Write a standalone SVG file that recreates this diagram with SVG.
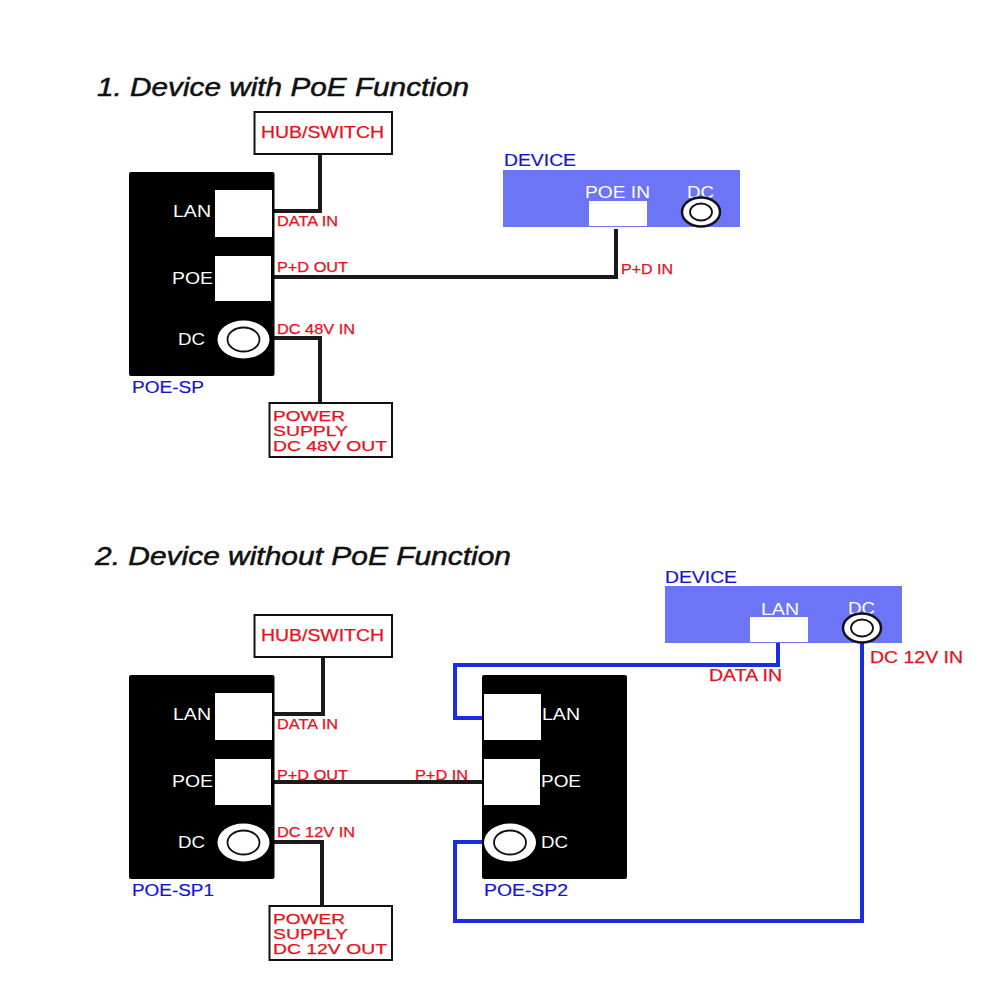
<svg xmlns="http://www.w3.org/2000/svg" width="1000" height="1000" viewBox="0 0 1000 1000">
<style>
text{font-family:"Liberation Sans",Arial,sans-serif}
.title{font-size:25px;font-style:italic;fill:#111;stroke:#111;stroke-width:.5px}
.r{font-size:14px;fill:#e8101c;stroke:#e8101c;stroke-width:.25px}
.rb{font-size:16.500px;fill:#e8101c;stroke:#e8101c;stroke-width:.25px}
.rp{font-size:15.500px;fill:#e8101c;stroke:#e8101c;stroke-width:.25px}
.rs{font-size:16px;fill:#e8101c;stroke:#e8101c;stroke-width:.25px}
.b{font-size:16.500px;fill:#1414d2;stroke:#1414d2;stroke-width:.2px}
.w{font-size:16.500px;fill:#fff}
.box{fill:#fff;stroke:#111;stroke-width:2}
.sp{fill:#000}
.hole{fill:#fff}
.dev{fill:#6b75f5}
.ring{fill:#fff}
.ringd{fill:#fff;stroke:#111;stroke-width:2.400}
.inner{fill:none;stroke:#111;stroke-width:1.800}
.k{fill:none;stroke:#1a1a1a;stroke-width:4}
.u{fill:none;stroke:#1a2ee0;stroke-width:4}
</style>
<text class="title" x="97" y="96" textLength="372" lengthAdjust="spacingAndGlyphs">1. Device with PoE Function</text>
<text class="title" x="95" y="565" textLength="416" lengthAdjust="spacingAndGlyphs">2. Device without PoE Function</text>
<g id="connectors">
<path class="k" d="M320 154V211H274"/>
<path class="k" d="M616 229V277H274"/>
<path class="k" d="M274 338H320V403"/>
<path class="k" d="M323 657V714H272"/>
<path class="k" d="M274 782H484"/>
<path class="k" d="M274 842H322V906"/>
<path class="u" d="M778 643V665H455V718H484"/>
<path class="u" d="M486 842H455V921H862V642"/>
</g>
<g id="hub1"><rect class="box" x="254.500" y="112" width="137.500" height="42"/><text class="rb" x="261" y="138" textLength="123" lengthAdjust="spacingAndGlyphs">HUB/SWITCH</text></g>
<g id="poe-sp"><rect class="sp" x="129" y="172" width="145.500" height="204" rx="2"/>
<rect class="hole" x="215" y="190" width="57" height="47"/><rect class="hole" x="215" y="256" width="56" height="45"/>
<ellipse class="ring" cx="243.500" cy="339.500" rx="26" ry="19"/><ellipse class="inner" cx="243.500" cy="339.500" rx="16" ry="12"/>
<text class="w" x="173" y="217" textLength="38" lengthAdjust="spacingAndGlyphs">LAN</text><text class="w" x="172" y="284" textLength="41" lengthAdjust="spacingAndGlyphs">POE</text><text class="w" x="178" y="345" textLength="27" lengthAdjust="spacingAndGlyphs">DC</text>
<text class="b" x="132" y="393" textLength="72" lengthAdjust="spacingAndGlyphs">POE-SP</text>
<text class="r" x="277" y="226" textLength="61" lengthAdjust="spacingAndGlyphs">DATA IN</text><text class="r" x="277" y="272" textLength="71" lengthAdjust="spacingAndGlyphs">P+D OUT</text><text class="r" x="277" y="334" textLength="78" lengthAdjust="spacingAndGlyphs">DC 48V IN</text></g>
<g id="power1"><rect class="box" x="269.500" y="403" width="122.500" height="54"/><text class="rp" x="273" y="420.500" textLength="72" lengthAdjust="spacingAndGlyphs">POWER</text><text class="rp" x="273" y="435.500" textLength="75" lengthAdjust="spacingAndGlyphs">SUPPLY</text><text class="rp" x="273" y="451" textLength="114" lengthAdjust="spacingAndGlyphs">DC 48V OUT</text></g>
<g id="device1"><text class="b" x="504" y="166" textLength="72" lengthAdjust="spacingAndGlyphs">DEVICE</text><rect class="dev" x="503" y="170" width="237" height="57"/><rect class="hole" x="589" y="201" width="58" height="25"/>
<text class="w" x="585" y="198" textLength="65" lengthAdjust="spacingAndGlyphs">POE IN</text><text class="w" x="687" y="198" textLength="27" lengthAdjust="spacingAndGlyphs">DC</text>
<ellipse class="ringd" cx="701" cy="212" rx="19" ry="14.500"/><ellipse class="inner" cx="701" cy="212" rx="11" ry="8.500"/>
<text class="r" x="621" y="274" textLength="52" lengthAdjust="spacingAndGlyphs">P+D IN</text></g>
<g id="hub2"><rect class="box" x="254.500" y="615" width="137.500" height="42"/><text class="rb" x="261" y="641" textLength="123" lengthAdjust="spacingAndGlyphs">HUB/SWITCH</text></g>
<g id="poe-sp1"><rect class="sp" x="129" y="675" width="145.500" height="204" rx="2"/>
<rect class="hole" x="215" y="693" width="57" height="47"/><rect class="hole" x="215" y="759" width="56" height="46"/>
<ellipse class="ring" cx="243.500" cy="842.500" rx="26" ry="19"/><ellipse class="inner" cx="243.500" cy="842.500" rx="16" ry="12"/>
<text class="w" x="173" y="720" textLength="38" lengthAdjust="spacingAndGlyphs">LAN</text><text class="w" x="172" y="787" textLength="41" lengthAdjust="spacingAndGlyphs">POE</text><text class="w" x="178" y="848" textLength="27" lengthAdjust="spacingAndGlyphs">DC</text>
<text class="b" x="132" y="896" textLength="82" lengthAdjust="spacingAndGlyphs">POE-SP1</text>
<text class="r" x="277" y="729" textLength="61" lengthAdjust="spacingAndGlyphs">DATA IN</text><text class="r" x="277" y="780" textLength="71" lengthAdjust="spacingAndGlyphs">P+D OUT</text><text class="r" x="277" y="837" textLength="78" lengthAdjust="spacingAndGlyphs">DC 12V IN</text></g>
<g id="power2"><rect class="box" x="269.500" y="906" width="122.500" height="54"/><text class="rp" x="273" y="923.500" textLength="72" lengthAdjust="spacingAndGlyphs">POWER</text><text class="rp" x="273" y="938.500" textLength="75" lengthAdjust="spacingAndGlyphs">SUPPLY</text><text class="rp" x="273" y="954" textLength="114" lengthAdjust="spacingAndGlyphs">DC 12V OUT</text></g>
<g id="poe-sp2"><rect class="sp" x="482" y="675" width="145" height="204" rx="2"/>
<rect class="hole" x="484" y="694" width="57" height="46"/><rect class="hole" x="484" y="759" width="56" height="46"/>
<ellipse class="ring" cx="510" cy="842.500" rx="26" ry="19"/><ellipse class="inner" cx="510" cy="842.500" rx="16" ry="12"/>
<text class="w" x="542" y="720" textLength="38" lengthAdjust="spacingAndGlyphs">LAN</text><text class="w" x="541" y="787" textLength="40" lengthAdjust="spacingAndGlyphs">POE</text><text class="w" x="541" y="848" textLength="27" lengthAdjust="spacingAndGlyphs">DC</text>
<text class="b" x="484" y="896" textLength="84" lengthAdjust="spacingAndGlyphs">POE-SP2</text>
<text class="r" x="415" y="780" textLength="53" lengthAdjust="spacingAndGlyphs">P+D IN</text></g>
<g id="device2"><text class="b" x="665" y="583" textLength="72" lengthAdjust="spacingAndGlyphs">DEVICE</text><rect class="dev" x="665" y="586" width="237" height="57"/><rect class="hole" x="750" y="617" width="58" height="25"/>
<text class="w" x="761" y="615" textLength="38" lengthAdjust="spacingAndGlyphs">LAN</text><text class="w" x="848" y="614" textLength="27" lengthAdjust="spacingAndGlyphs">DC</text>
<ellipse class="ringd" cx="862" cy="628" rx="19" ry="14.500"/><ellipse class="inner" cx="862" cy="628" rx="11" ry="8.500"/>
<text class="rs" x="870" y="663" textLength="93" lengthAdjust="spacingAndGlyphs">DC 12V IN</text><text class="rs" x="709" y="681" textLength="73" lengthAdjust="spacingAndGlyphs">DATA IN</text></g>
</svg>
